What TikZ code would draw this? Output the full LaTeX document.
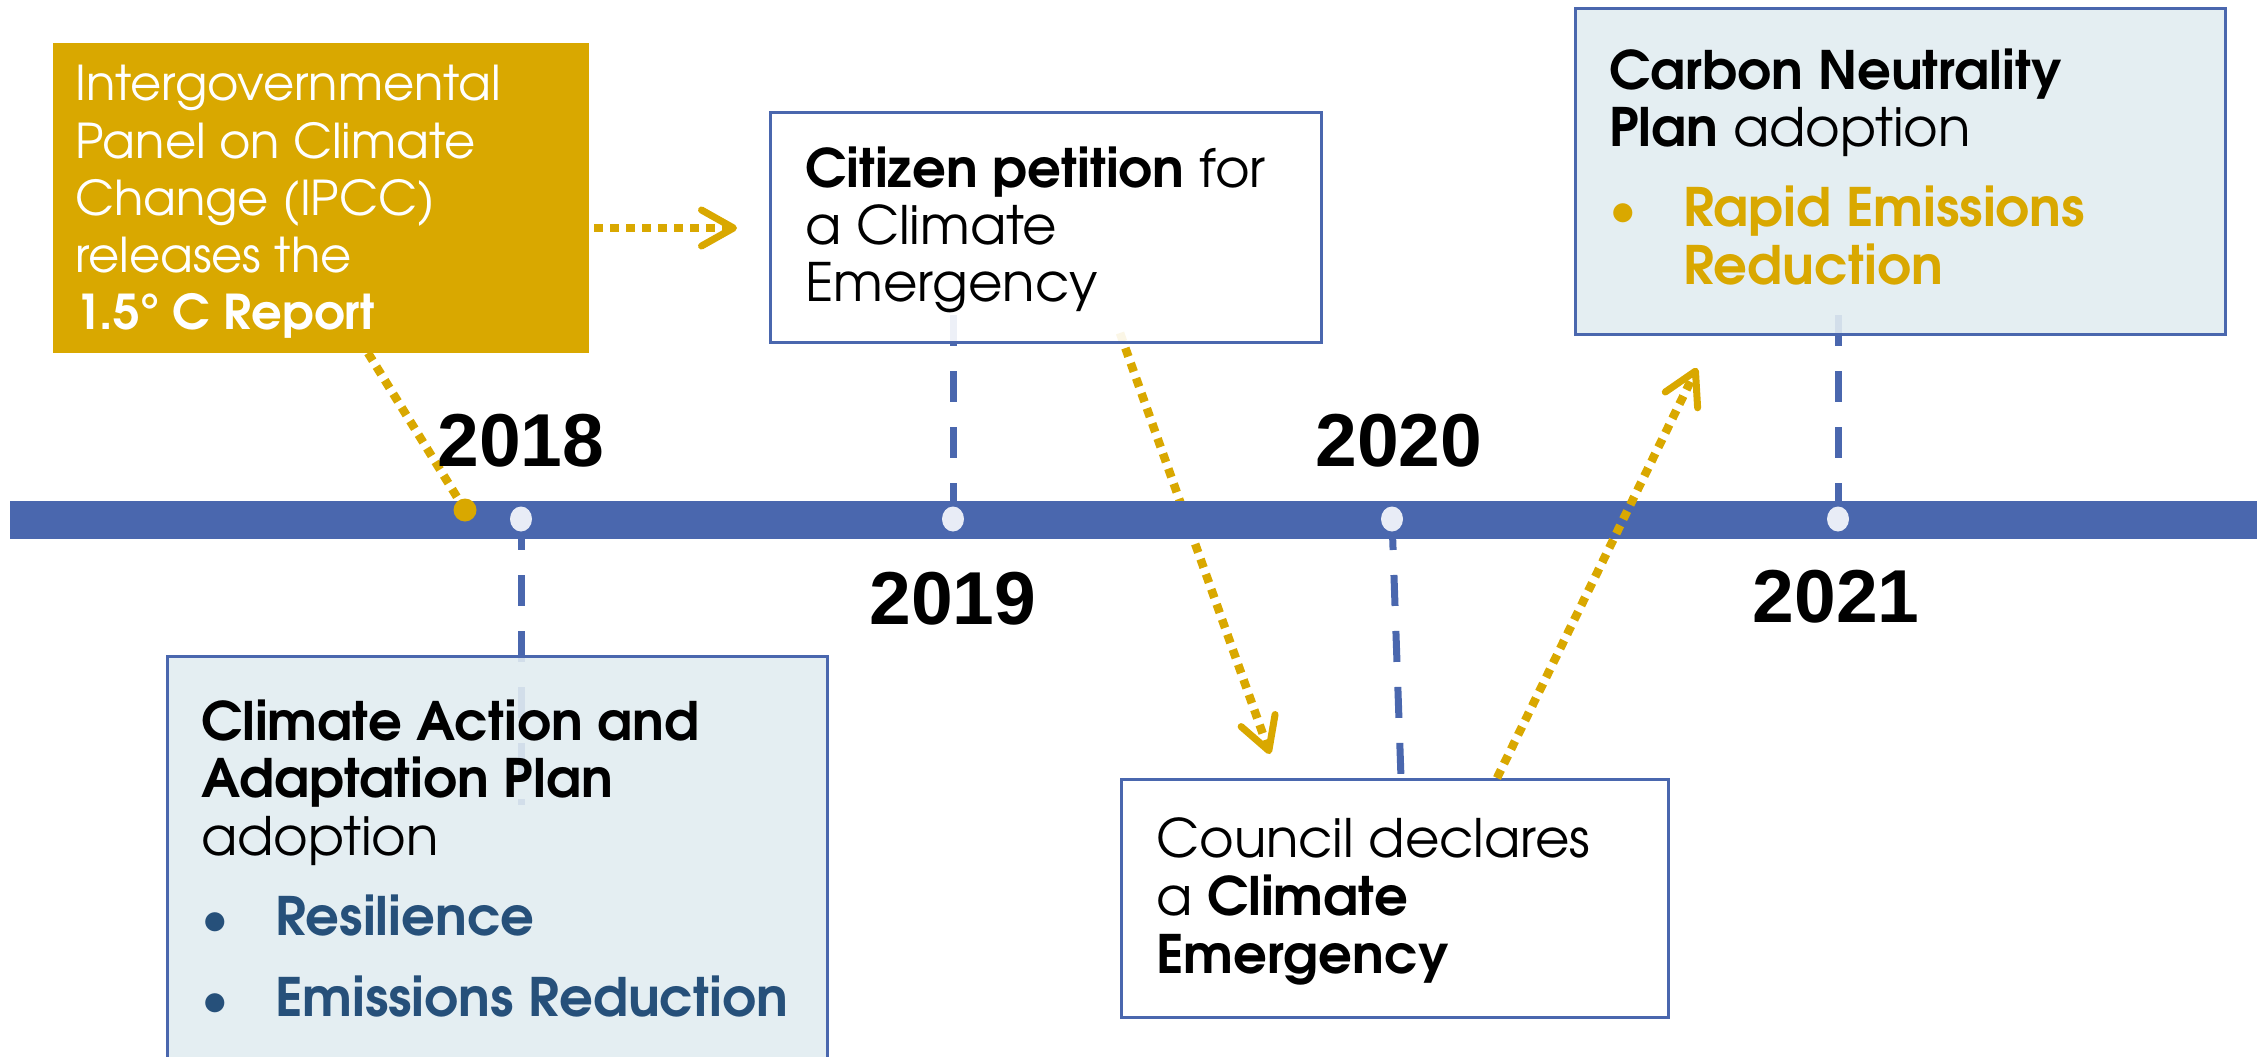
\documentclass[tikz,border=0pt]{standalone}
\usepackage{fontspec}
\setmainfont{texgyreadventor}[Extension=.otf, UprightFont=*-regular, BoldFont=*-bold, ItalicFont=*-italic, BoldItalicFont=*-bolditalic]
\newfontfamily\yearfont{Liberation Sans}
\usetikzlibrary{arrows.meta,shapes.geometric,calc}
\definecolor{gold}{RGB}{217,168,0}
\definecolor{tlblue}{RGB}{74,103,174}
\definecolor{lightfill}{RGB}{225,236,241}
\definecolor{darkblue}{RGB}{38,80,122}
\definecolor{dotwhite}{RGB}{232,236,246}
\pgfdeclarelayer{bg}
\pgfsetlayers{bg,main}
\begin{document}
\begin{tikzpicture}[x=1pt,y=-1pt,
  box/.style={draw=tlblue, line width=3pt, anchor=north west, inner sep=0pt, fill opacity=0.9},
  goldbox/.style={fill=gold, anchor=north west, inner sep=0pt},
  txt/.style={anchor=base west, inner sep=0pt, align=left},
  year/.style={anchor=base, inner sep=0pt, font=\yearfont\bfseries\fontsize{75pt}{80pt}\selectfont},
  wdot/.style={ellipse, fill=dotwhite, minimum width=22pt, minimum height=25pt, inner sep=0pt},
  gdot/.style={circle, fill=gold, minimum size=23pt, inner sep=0pt},
  dashln/.style={draw=tlblue, line width=7pt, dash pattern=on 31pt off 25pt},
  dotln/.style={draw=gold, line width=8.5pt, dash pattern=on 9pt off 7pt},
  arr/.style={-{Straight Barb[length=32pt,width=36pt,round,line width=7pt]}}
]
\useasboundingbox (0,0) rectangle (2267,1057);
\clip (0,0) rectangle (2267,1057);

% boxes
\node[goldbox, minimum width=536pt, minimum height=310pt] (ipcc) at (53,43) {};
\node[box, fill=white, minimum width=551pt, minimum height=230pt] (cit) at (769,111) {};
\node[box, fill=lightfill, minimum width=650pt, minimum height=326pt] (carb) at (1574,7) {};
\node[box, fill=lightfill, minimum width=660pt, minimum height=450pt] (caap) at (166,655) {};
\node[box, fill=white, minimum width=547pt, minimum height=238pt] (coun) at (1120,778) {};

% dots
\node[wdot] (d18) at (521,519) {};
\node[wdot] (d19) at (953,519) {};
\node[wdot] (d20) at (1392,519) {};
\node[wdot] (d21) at (1838,519) {};
\node[gdot] (g18) at (465,510) {};

% free ends
\coordinate (e18) at (521,805);
\coordinate (e19) at (953,315);
\coordinate (e20) at (1401,778);
\coordinate (e21) at (1838,315);
\coordinate (s1) at (368,353);
\coordinate (s2) at (594,228);
\coordinate (t2) at (737,228);
\coordinate (s3) at (1120,333);
\coordinate (t3) at (1270,754);
\coordinate (s4) at (1497,778);
\coordinate (t4) at (1697,368);

\begin{pgfonlayer}{bg}
  \draw[dashln] (d18.center) -- (e18);
  \draw[dashln] (e19) -- (d19.center);
  \draw[dashln] (d20.center) -- (e20);
  \draw[dashln] (e21) -- (d21.center);
  \draw[dotln] (s1) -- (g18.center);
  \draw[dotln, arr] (s2) -- (t2);
  \draw[dotln, arr] (s3) -- (t3);
  \fill[tlblue] (10,500.5) rectangle (2257,539);
\end{pgfonlayer}

\draw[dotln, arr] (s4) -- (t4);

% texts
\node[txt, text=white, font=\fontsize{48pt}{57.3pt}\selectfont] (ipcct) at (75,100.7)
  {\begin{tabular}[t]{@{}l@{}}Intergovernmental\\ Panel on Climate\\ Change (IPCC)\\ releases the\\ \textbf{1.5° C Report}\end{tabular}};

\node[txt, text=black, font=\fontsize{53pt}{57pt}\selectfont] (citt) at (805,187)
  {\begin{tabular}[t]{@{}l@{}}\textbf{Citizen petition} for\\ a Climate\\ Emergency\end{tabular}};

\node[txt, text=black, font=\fontsize{53pt}{57.5pt}\selectfont] (carbt) at (1609,89)
  {\begin{tabular}[t]{@{}l@{}}\textbf{Carbon Neutrality}\\ \textbf{Plan} adoption\\[22.5pt]
  \color{gold}\makebox[74pt][l]{\textbullet}\textbf{Rapid Emissions}\\
  \color{gold}\hspace*{74pt}\textbf{Reduction}\end{tabular}};

\node[txt, text=black, font=\fontsize{53pt}{57.5pt}\selectfont] (caapt) at (201,740)
  {\begin{tabular}[t]{@{}l@{}}\textbf{Climate Action and}\\ \textbf{Adaptation Plan}\\ adoption\\[22.5pt]
  \color{darkblue}\makebox[74pt][l]{\textbullet}\textbf{Resilience}\\[22.5pt]
  \color{darkblue}\makebox[74pt][l]{\textbullet}\textbf{Emissions Reduction}\end{tabular}};

\node[txt, text=black, font=\fontsize{53pt}{58pt}\selectfont] (count) at (1156,857)
  {\begin{tabular}[t]{@{}l@{}}Council declares\\ a \textbf{Climate}\\ \textbf{Emergency}\end{tabular}};

% years
\node[year] (y18) at (521,466) {2018};
\node[year] (y20) at (1399,466) {2020};
\node[year] (y19) at (953,624) {2019};
\node[year] (y21) at (1836,622) {2021};
\end{tikzpicture}
\end{document}
